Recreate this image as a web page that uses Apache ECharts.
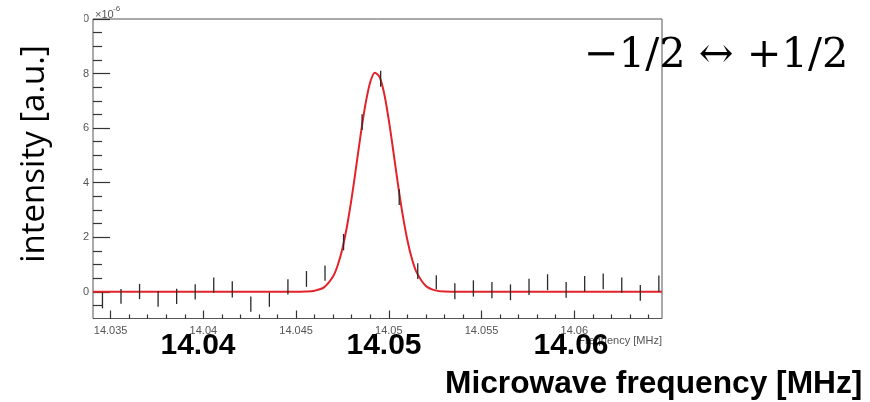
<!DOCTYPE html>
<html>
<head>
<meta charset="utf-8">
<script src="https://cdn.jsdelivr.net/npm/echarts@6/dist/echarts.min.js"></script>
<style>
html,body{margin:0;padding:0;background:#fff;}
#chart{width:870px;height:402px;}
</style>
</head>
<body>
<div id="chart"></div>
<script>
// ---- data ----
const freq = [14.03456, 14.03556, 14.03656, 14.03756, 14.03856, 14.03956, 14.04056, 14.04156,
  14.04256, 14.04356, 14.04456, 14.04556, 14.04656, 14.04756, 14.04856, 14.04956,
  14.05056, 14.05156, 14.05256, 14.05356, 14.05456, 14.05556, 14.05656, 14.05756,
  14.05856, 14.05956, 14.06056, 14.06156, 14.06256, 14.06356, 14.06456];
const intensity = [-0.32, -0.17, 0.01, -0.26, -0.17, 0.00, 0.24, 0.09,
  -0.45, -0.29, 0.18, 0.47, 0.68, 1.82, 6.22, 7.81,
  3.47, 0.76, 0.35, 0.02, 0.12, 0.06, -0.02, 0.18,
  0.35, 0.07, 0.29, 0.38, 0.24, -0.04, 0.30];
const errors = [0.29, 0.27, 0.28, 0.29, 0.28, 0.28, 0.28, 0.30,
  0.28, 0.26, 0.28, 0.29, 0.28, 0.30, 0.29, 0.29,
  0.29, 0.29, 0.26, 0.29, 0.30, 0.30, 0.29, 0.30,
  0.29, 0.29, 0.29, 0.29, 0.28, 0.29, 0.30];
// red fit curve
const fitX = [14.03405, 14.0440, 14.0450, 14.0455, 14.0460, 14.0465, 14.0470, 14.04725, 14.0475,
  14.04775, 14.0480, 14.04825, 14.0485, 14.04875, 14.0490, 14.04925, 14.0495, 14.04975,
  14.0500, 14.05025, 14.0505, 14.05075, 14.0510, 14.05125, 14.0515, 14.0520, 14.0525,
  14.0530, 14.0540, 14.06473];
const fitY = [0, 0, 0, 0.01, 0.04, 0.16, 0.57, 0.98, 1.59,
  2.42, 3.45, 4.63, 5.84, 6.91, 7.69, 8.03, 7.88, 7.27,
  6.29, 5.12, 3.91, 2.81, 1.90, 1.20, 0.71, 0.21, 0.05,
  0.01, 0, 0];
const xMajor = [14.035, 14.04, 14.045, 14.05, 14.055, 14.06];
const xMinor = [14.036, 14.037, 14.038, 14.039, 14.041, 14.042, 14.043, 14.044,
  14.046, 14.047, 14.048, 14.049, 14.051, 14.052, 14.053, 14.054,
  14.056, 14.057, 14.058, 14.059, 14.061, 14.062, 14.063, 14.064];
const yMajor = [0, 2, 4, 6, 8, 10];
const yMinor = [-0.5, 0.5, 1, 1.5, 2.5, 3, 3.5, 4.5, 5, 5.5, 6.5, 7, 7.5, 8.5, 9, 9.5];
const bigXLabels = ['14.04', '14.05', '14.06'];
const xTitle = 'Microwave frequency [MHz]';
const yTitle = 'intensity [a.u.]';
const rootXTitle = 'Frequency [MHz]';
const transitionText = '\u22121/2 \u2194 +1/2';

const X_MIN = 14.03405, X_MAX = 14.06473, Y_MIN = -0.98, Y_MAX = 10;

const chart = echarts.init(document.getElementById('chart'), null, {renderer: 'canvas'});
const tickColor = '#333';
const labelColor = '#555';
const baseFont = 'Liberation Sans, Arial, sans-serif';

function xAxisCfg(vals, len, showLabel) {
  return {
    type: 'value', min: X_MIN, max: X_MAX, position: 'bottom',
    axisLine: {show: false, onZero: false}, splitLine: {show: false},
    axisTick: {show: true, inside: true, length: len, customValues: vals, lineStyle: {color: tickColor, width: 1.2}},
    axisLabel: showLabel ? {show: true, customValues: vals, color: labelColor, fontSize: 11, fontFamily: baseFont, margin: 7,
      formatter: v => String(+(+v).toFixed(3))} : {show: false}
  };
}
function yAxisCfg(vals, len, showLabel) {
  return {
    type: 'value', min: Y_MIN, max: Y_MAX, position: 'left',
    axisLine: {show: false, onZero: false}, splitLine: {show: false},
    axisTick: {show: true, inside: true, length: len, customValues: vals, lineStyle: {color: tickColor, width: 1.2}},
    axisLabel: showLabel ? {show: true, customValues: vals, color: labelColor, fontSize: 11, fontFamily: baseFont, margin: 4,
      formatter: v => String(Math.round(v))} : {show: false}
  };
}

const option = {
  animation: false,
  backgroundColor: '#fff',
  grid: {left: 93, top: 19, width: 569, height: 299.5, show: true, borderColor: '#555', borderWidth: 1, backgroundColor: 'transparent'},
  xAxis: [xAxisCfg(xMajor, 8, true), xAxisCfg(xMinor, 4, false)],
  yAxis: [yAxisCfg(yMajor, 17, true), yAxisCfg(yMinor, 9, false)],
  series: [
    {
      type: 'line', xAxisIndex: 0, yAxisIndex: 0,
      data: fitX.map((x, i) => [x, fitY[i]]),
      showSymbol: false, smooth: 0.3, z: 2,
      lineStyle: {color: '#e3232a', width: 2},
      clip: true
    },
    {
      type: 'custom', xAxisIndex: 0, yAxisIndex: 0, z: 3,
      data: freq.map((f, i) => [f, intensity[i], errors[i]]),
      encode: {x: 0, y: 1},
      renderItem: function (params, api) {
        const x = api.value(0), y = api.value(1), e = api.value(2);
        const p1 = api.coord([x, y + e]);
        const p2 = api.coord([x, y - e]);
        return {type: 'line', shape: {x1: p1[0], y1: p1[1], x2: p2[0], y2: p2[1]},
          style: {stroke: '#2a2a2a', lineWidth: 1.3}};
      }
    }
  ],
  graphic: [
    {type: 'rect', left: 0, top: 0, shape: {width: 84, height: 32}, style: {fill: '#fff'}, z: 100},
    {type: 'text', left: 95, top: 9, z: 101, style: {text: '\u00d710', fill: labelColor, fontSize: 11, fontFamily: baseFont}},
    {type: 'text', left: 113, top: 5, z: 101, style: {text: '-6', fill: labelColor, fontSize: 8, fontFamily: baseFont}},
    {type: 'text', right: 870 - 662, top: 335, z: 101, style: {text: rootXTitle, fill: labelColor, fontSize: 11, fontFamily: baseFont}},
    {type: 'text', x: 198, y: 346, z: 102, style: {text: bigXLabels[0], fill: '#000', fontSize: 30, fontWeight: 'bold', fontFamily: baseFont, align: 'center', verticalAlign: 'middle'}},
    {type: 'text', x: 384, y: 346, z: 102, style: {text: bigXLabels[1], fill: '#000', fontSize: 30, fontWeight: 'bold', fontFamily: baseFont, align: 'center', verticalAlign: 'middle'}},
    {type: 'text', x: 571, y: 346, z: 102, style: {text: bigXLabels[2], fill: '#000', fontSize: 30, fontWeight: 'bold', fontFamily: baseFont, align: 'center', verticalAlign: 'middle'}},
    {type: 'text', x: 445, y: 384, z: 102, style: {text: xTitle, fill: '#000', fontSize: 31.7, fontWeight: 'bold', fontFamily: baseFont, align: 'left', verticalAlign: 'middle'}},
    {type: 'text', x: 35, y: 154, rotation: Math.PI / 2, z: 102, style: {text: yTitle, fill: '#000', fontSize: 33, fontFamily: 'Open Sans, sans-serif', align: 'center', verticalAlign: 'middle'}},
    {type: 'text', x: 584, y: 56, z: 102, style: {text: transitionText, fill: '#000', fontSize: 41.5, fontFamily: 'DejaVu Serif, serif', align: 'left', verticalAlign: 'middle'}}
  ]
};
chart.setOption(option);
</script>
</body>
</html>
